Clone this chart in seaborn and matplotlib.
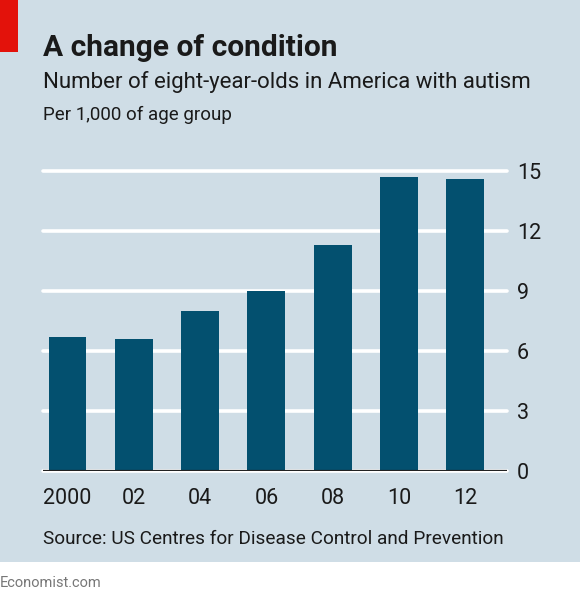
import matplotlib.pyplot as plt
import seaborn as sns

# data
years = ['2000', '02', '04', '06', '08', '10', '12']
per_1000 = [6.7, 6.6, 8.0, 9.0, 11.3, 14.7, 14.6]
yticks = [0, 3, 6, 9, 12, 15]

bg = '#cfdde6'
bar_col = '#03506f'
txt = '#1a1a1a'

sns.set_style('white')
plt.rcParams['font.family'] = ['Roboto', 'DejaVu Sans']

fig = plt.figure(figsize=(5.8, 5.98), dpi=100)
fig.patch.set_facecolor('white')

# blue panel behind everything
back = fig.add_axes([0, 1 - 562 / 598, 1, 562 / 598], zorder=0)
back.set_facecolor(bg)
back.set_xlim(0, 580)
back.set_ylim(562, 0)
back.set_xticks([])
back.set_yticks([])
for s in back.spines.values():
    s.set_visible(False)
# red tag
back.fill_between([0, 18], 0, 52, color='#e3120b', linewidth=0)

ax = fig.add_axes([43 / 580, 1 - 471 / 598, (507 - 43) / 580, 300 / 598], zorder=1)
ax.patch.set_alpha(0)

sns.barplot(x=years, y=per_1000, color=bar_col, saturation=1, width=0.57,
            linewidth=0, edgecolor='none', ax=ax, zorder=3)

ax.set_xlim(-0.37, 6.63)
ax.set_ylim(0, 15)
ax.set_yticks(yticks)
ax.yaxis.tick_right()
ax.grid(axis='y', color='white', linewidth=2.6, zorder=0)
ax.set_axisbelow(True)
for s in ax.spines.values():
    s.set_visible(False)
ax.axhline(0, color='#222222', linewidth=1.6, zorder=4)
ax.tick_params(axis='y', length=0, pad=7, labelsize=15.5, labelcolor=txt)
ax.tick_params(axis='x', length=0, pad=12, labelsize=15.5, labelcolor=txt)
ax.set_xlabel('')
ax.set_ylabel('')
for line in ax.get_ygridlines():
    line.set_clip_on(False)

fig.text(43 / 580, 1 - 56 / 598, 'A change of condition', fontsize=21.5, fontweight='bold', color=txt)
fig.text(43 / 580, 1 - 88 / 598, 'Number of eight-year-olds in America with autism', fontsize=16, color=txt)
fig.text(43 / 580, 1 - 120 / 598, 'Per 1,000 of age group', fontsize=13.5, color=txt)
fig.text(43 / 580, 1 - 544 / 598, 'Source: US Centres for Disease Control and Prevention', fontsize=13.7, color=txt)
fig.text(0, 1 - 587 / 598, 'Economist.com', fontsize=10.5, color='#777777')

fig.savefig('out.png', dpi=100, facecolor=fig.get_facecolor())
